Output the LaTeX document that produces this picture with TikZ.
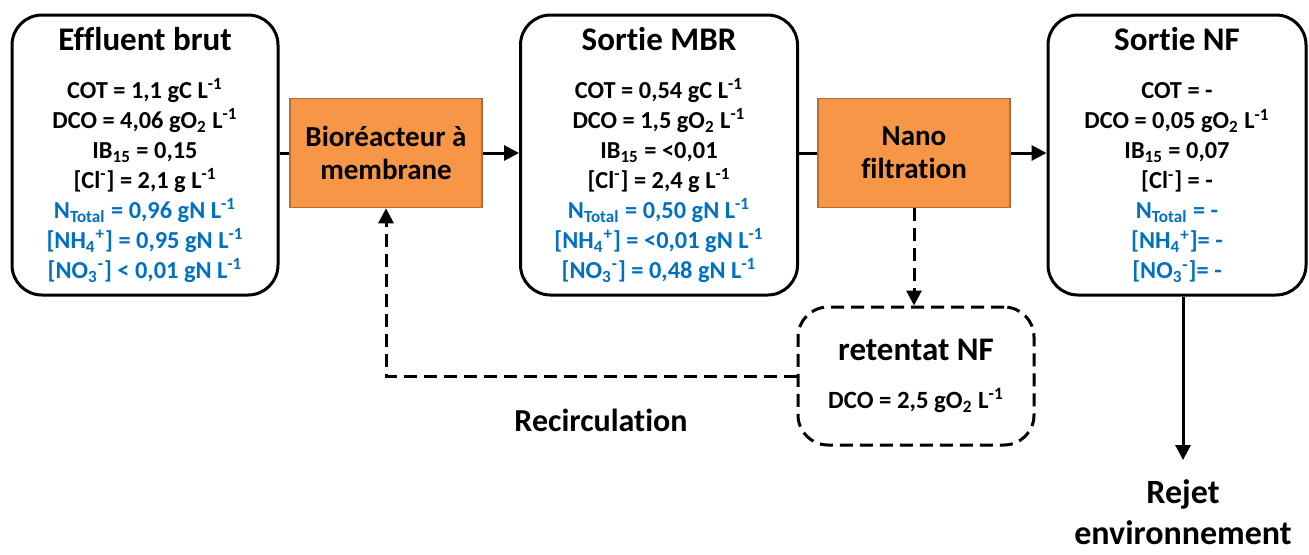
\documentclass[tikz,border=0pt]{standalone}
\usepackage{fontspec}
\setmainfont[Ligatures=NoCommon]{Carlito}
\usetikzlibrary{positioning, arrows.meta}
\definecolor{bleu}{HTML}{0070C0}
\definecolor{orangebox}{HTML}{F79646}
\definecolor{orangeedge}{HTML}{B66D31}
\tikzset{
    etat/.style = {draw, line width=1.5pt, rounded corners=15pt, minimum height=140pt,
        align=center, inner sep=0pt, font=\bfseries\fontsize{12.2}{15}\selectfont},
    retentat/.style = {etat, dash pattern=on 6.5pt off 3.5pt, minimum width=118pt, minimum height=69pt,
        font=\bfseries\fontsize{12.4}{15}\selectfont},
    procede/.style = {draw=orangeedge, fill=orangebox, line width=0.8pt, minimum width=96pt,
        minimum height=54.5pt, align=center, font=\bfseries\fontsize{14.5}{16.5}\selectfont},
    flux/.style = {line width=1.5pt, -{Triangle[length=7.5pt, width=7.5pt]}},
    retour/.style = {flux, dash pattern=on 6.5pt off 3.5pt},
    legende/.style = {align=center, font=\bfseries\fontsize{16}{20}\selectfont},
}
\newcommand{\titre}[1]{{\fontsize{16.5}{17}\selectfont #1}\\[9pt]}
\newcommand{\bl}[1]{\textcolor{bleu}{#1}}
\newcommand{\Lm}{L\textsuperscript{-1}}

\begin{document}
\begin{tikzpicture}[x=0.5pt, y=-0.5pt]
    \useasboundingbox (0, 0) rectangle (1309, 554);

    \node[etat, minimum width=133pt] (eff) at (145, 155) {\titre{Effluent brut}
        COT = 1,1 gC \Lm\\
        DCO = 4,06 gO\textsubscript{2} \Lm\\
        IB\textsubscript{15} = 0,15\\
        {[}Cl\textsuperscript{-}] = 2,1 g \Lm\\
        \bl{N\textsubscript{Total} = 0,96 gN \Lm}\\
        \bl{[NH\textsubscript{4}\textsuperscript{+}] = 0,95 gN \Lm}\\
        \bl{[NO\textsubscript{3}\textsuperscript{-}] < 0,01 gN \Lm}};

    \node[etat, minimum width=138.5pt] (sortie) at (659, 155) {\titre{Sortie MBR}
        COT = 0,54 gC \Lm\\
        DCO = 1,5 gO\textsubscript{2} \Lm\\
        IB\textsubscript{15} = <0,01\\
        {[}Cl\textsuperscript{-}] = 2,4 g \Lm\\
        \bl{N\textsubscript{Total} = 0,50 gN \Lm}\\
        \bl{[NH\textsubscript{4}\textsuperscript{+}] = <0,01 gN \Lm}\\
        \bl{[NO\textsubscript{3}\textsuperscript{-}] = 0,48 gN \Lm}};

    \node[etat, minimum width=129pt] (nf) at (1177, 155) {\titre{Sortie NF}
        COT = -\\
        DCO = 0,05 gO\textsubscript{2} \Lm\\
        IB\textsubscript{15} = 0,07\\
        {[}Cl\textsuperscript{-}] = -\\
        \bl{N\textsubscript{Total} = -}\\
        \bl{[NH\textsubscript{4}\textsuperscript{+}]= -}\\
        \bl{[NO\textsubscript{3}\textsuperscript{-}]= -}};

    \node[procede] (mbr) at (386, 153) {Bioréacteur à\\membrane};
    \node[procede] (nano) at (914, 153) {Nano\\filtration};

    \node[retentat] (ret) at (916, 376) {\titre{retentat NF}
        DCO = 2,5 gO\textsubscript{2} \Lm};

    \node[legende] (recirc) at (601, 420) {Recirculation};
    \node[legende, anchor=north, inner sep=1pt, font=\bfseries\fontsize{17}{20.5}\selectfont] (rejet) at (1183, 477) {Rejet\\environnement};

    \draw[line width=1.5pt] (eff.east |- mbr) -- (mbr.west);
    \draw[flux] (mbr.east) -- (sortie.west |- mbr);
    \draw[line width=1.5pt] (sortie.east |- nano) -- (nano.west);
    \draw[flux] (nano.east) -- (nf.west |- nano);
    \draw[retour] (nano.south) -- (nano.south |- ret.north);
    \draw[retour] (ret.west) -| (mbr.south);
    \draw[flux] (nf.south -| rejet) -- ([yshift=8.5pt]rejet.north);
\end{tikzpicture}
\end{document}
